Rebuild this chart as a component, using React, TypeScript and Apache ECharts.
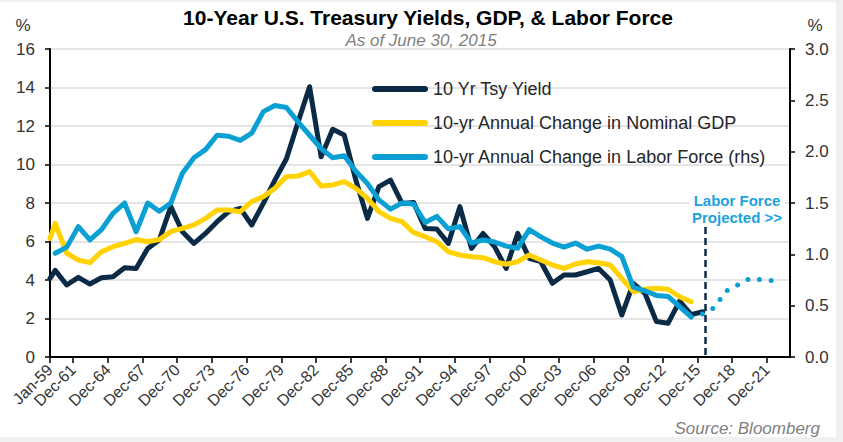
import React, { useEffect, useRef } from "react";
import * as echarts from "echarts";

// Annual observations (Dec of each year, last = Jun-15), first entry = Dec-59
const tsyStartJan59 = 4.09;
const gdpStartJan59 = 6.16;

const tsyYield = [4.5, 3.74, 4.14, 3.79, 4.12, 4.17, 4.64, 4.6, 5.64, 6.08, 7.81, 6.51, 5.9, 6.42, 7.03, 7.55, 7.72, 6.86, 7.98, 9.19, 10.3, 12.2, 14.04, 10.4, 11.83, 11.53, 9.19, 7.2, 8.85, 9.19, 7.98, 8.02, 6.68, 6.65, 5.9, 7.81, 5.64, 6.42, 5.73, 4.6, 6.42, 5.13, 4.95, 3.83, 4.26, 4.26, 4.43, 4.6, 4.0, 2.18, 3.83, 3.31, 1.84, 1.75, 2.9, 2.2, 2.35];

const gdpChange = [6.94, 5.39, 5.04, 4.9, 5.47, 5.73, 5.9, 6.1, 5.99, 6.1, 6.51, 6.68, 6.86, 7.2, 7.64, 7.64, 7.55, 8.07, 8.33, 8.76, 9.37, 9.4, 9.63, 8.88, 8.94, 9.11, 8.76, 8.24, 7.55, 7.2, 7.03, 6.46, 6.25, 5.99, 5.47, 5.3, 5.21, 5.16, 4.95, 4.82, 4.95, 5.3, 5.04, 4.78, 4.6, 4.83, 4.95, 4.9, 4.78, 4.09, 3.39, 3.52, 3.57, 3.52, 3.13, 2.87];

const laborChange = [1.01, 1.07, 1.27, 1.14, 1.24, 1.4, 1.5, 1.22, 1.5, 1.42, 1.5, 1.79, 1.94, 2.02, 2.16, 2.15, 2.11, 2.18, 2.39, 2.45, 2.43, 2.29, 2.16, 2.03, 1.94, 1.96, 1.81, 1.69, 1.53, 1.44, 1.5, 1.49, 1.31, 1.37, 1.25, 1.27, 1.11, 1.14, 1.12, 1.08, 1.06, 1.24, 1.17, 1.11, 1.07, 1.11, 1.05, 1.08, 1.05, 0.98, 0.68, 0.645, 0.6, 0.59, 0.49, 0.39];

// projection starts at the last actual labor-force observation (index 55)
const laborProjStartIndex = 55;
const laborProjected = [0.39, 0.42, 0.48, 0.64, 0.7, 0.76, 0.755, 0.745];

const xTickLabels = ["Jan-59", "Dec-61", "Dec-64", "Dec-67", "Dec-70", "Dec-73", "Dec-76", "Dec-79", "Dec-82", "Dec-85", "Dec-88", "Dec-91", "Dec-94", "Dec-97", "Dec-00", "Dec-03", "Dec-06", "Dec-09", "Dec-12", "Dec-15", "Dec-18", "Dec-21"];

const leftTicks = { min: 0, max: 16, interval: 2 };
const rightTicks = { min: 0, max: 3, interval: 0.5 };

const projectionMarkerPos = 56.7;
const projectionMarkerTop = 6.75;

const NAVY = "#0b2a45";
const GOLD = "#ffd200";
const BLUE = "#0aa0d4";
const FONT = "'Liberation Sans', Arial, Helvetica, sans-serif";

const OFFSET = 0.45; // observation position within period
const pos = (i: number) => i + OFFSET;
const tickPositions = xTickLabels.map((_, i) => (i === 0 ? 0 : 3 * i - 1));

export default function App() {
  const ref = useRef<HTMLDivElement>(null);
  useEffect(() => {
    if (!ref.current) return;
    const chart = echarts.init(ref.current, null, { renderer: "svg" });

    const tsyData = [[0, tsyStartJan59], ...tsyYield.map((v, i) => [pos(i), v])];
    const gdpData = [[0, gdpStartJan59], ...gdpChange.map((v, i) => [pos(i), v])];
    const laborData = laborChange.map((v, i) => [pos(i), v]);
    const projData = laborProjected.map((v, i) => [pos(laborProjStartIndex + i), v]);

    const capsule = "path://M3,0 L53,0 A3,3 0 0 1 53,6 L3,6 A3,3 0 0 1 3,0 Z";

    chart.setOption({
      animation: false,
      backgroundColor: "#ffffff",
      textStyle: { fontFamily: FONT },
      grid: { left: 50, right: 53, top: 49, bottom: 85 },
      legend: {
        orient: "vertical",
        left: 367,
        top: 74,
        itemWidth: 56,
        itemHeight: 6,
        itemGap: 14,
        icon: capsule,
        textStyle: { fontSize: 18, color: "#262626", lineHeight: 20, fontFamily: FONT },
        data: [
          { name: "10 Yr Tsy Yield", itemStyle: { color: NAVY } },
          { name: "10-yr Annual Change in Nominal GDP", itemStyle: { color: GOLD } },
          { name: "10-yr Annual Change in Labor Force (rhs)", itemStyle: { color: BLUE } },
        ],
      },
      xAxis: {
        type: "value",
        min: 0,
        max: 64,
        axisLine: { show: true, lineStyle: { color: "#000", width: 2 } },
        axisTick: { show: true, customValues: tickPositions, length: 6, lineStyle: { color: "#000", width: 1.5 } },
        axisLabel: {
          customValues: tickPositions,
          rotate: 45,
          fontSize: 16,
          color: "#333",
          margin: 10,
          fontFamily: FONT,
          formatter: (v: number) => {
            const idx = tickPositions.indexOf(Math.round(v));
            return idx >= 0 ? xTickLabels[idx] : "";
          },
        },
        splitLine: { show: false },
      },
      yAxis: [
        {
          type: "value",
          ...leftTicks,
          axisLine: { show: true, lineStyle: { color: "#000", width: 2 } },
          axisTick: { show: true, length: 5, lineStyle: { color: "#000", width: 1.5 } },
          axisLabel: { fontSize: 17, color: "#333", margin: 15, fontFamily: FONT },
          splitLine: { show: true, lineStyle: { color: "#dcdcdc", width: 1.5 } },
        },
        {
          type: "value",
          ...rightTicks,
          position: "right",
          axisLine: { show: true, lineStyle: { color: "#000", width: 2 } },
          axisTick: { show: true, length: 5, lineStyle: { color: "#000", width: 1.5 } },
          axisLabel: {
            fontSize: 17,
            color: "#333",
            margin: 15,
            fontFamily: FONT,
            formatter: (v: number) => v.toFixed(1),
          },
          splitLine: { show: false },
        },
      ],
      series: [
        {
          name: "10 Yr Tsy Yield",
          type: "line",
          data: tsyData,
          showSymbol: false,
          symbol: "none",
          color: NAVY,
          lineStyle: { color: NAVY, width: 5, cap: "round", join: "round" },
          markLine: {
            silent: true,
            symbol: ["none", "none"],
            label: { show: false },
            lineStyle: { color: NAVY, type: [7, 4], width: 2.5 },
            data: [[{ coord: [projectionMarkerPos, projectionMarkerTop] }, { coord: [projectionMarkerPos, 0] }]],
          },
        },
        {
          name: "10-yr Annual Change in Nominal GDP",
          type: "line",
          data: gdpData,
          showSymbol: false,
          symbol: "none",
          color: GOLD,
          lineStyle: { color: GOLD, width: 5, cap: "round", join: "round" },
        },
        {
          name: "10-yr Annual Change in Labor Force (rhs)",
          type: "line",
          yAxisIndex: 1,
          data: laborData,
          showSymbol: false,
          symbol: "none",
          color: BLUE,
          lineStyle: { color: BLUE, width: 5, cap: "round", join: "round" },
        },
        {
          name: "Labor Force Projected",
          type: "line",
          yAxisIndex: 1,
          data: projData,
          showSymbol: false,
          symbol: "none",
          color: BLUE,
          lineStyle: { color: BLUE, width: 5, type: [0, 11.7], cap: "round", join: "round" },
        },
      ],
      graphic: [
        { type: "rect", z: 100, shape: { x: 0, y: 0, width: 843, height: 2 }, style: { fill: "#f0f0f0" }, silent: true },
        { type: "rect", z: 100, shape: { x: 836, y: 0, width: 7, height: 442 }, style: { fill: "#f0f0f0" }, silent: true },
        { type: "rect", z: 100, shape: { x: 0, y: 437, width: 843, height: 5 }, style: { fill: "#f0f0f0" }, silent: true },
        {
          type: "text",
          z: 100,
          x: 428,
          y: 17,
          style: {
            text: "10-Year U.S. Treasury Yields, GDP, & Labor Force",
            font: `bold 21px ${FONT}`,
            fill: "#000",
            textAlign: "center",
            textVerticalAlign: "middle",
          },
        },
        {
          type: "text",
          z: 100,
          x: 421,
          y: 40,
          style: {
            text: "As of June 30, 2015",
            font: `italic 17px ${FONT}`,
            fill: "#7f7f7f",
            textAlign: "center",
            textVerticalAlign: "middle",
          },
        },
        {
          type: "text",
          z: 100,
          x: 23,
          y: 25,
          style: { text: "%", font: `17px ${FONT}`, fill: "#333", textAlign: "center", textVerticalAlign: "middle" },
        },
        {
          type: "text",
          z: 100,
          x: 815,
          y: 25,
          style: { text: "%", font: `17px ${FONT}`, fill: "#333", textAlign: "center", textVerticalAlign: "middle" },
        },
        {
          type: "text",
          z: 100,
          x: 737,
          y: 191,
          style: {
            text: "Labor Force\nProjected >>",
            font: `bold 15px ${FONT}`,
            fill: "#1ba3dc",
            textAlign: "center",
            lineHeight: 17,
            backgroundColor: "#ffffff",
            padding: [1, 3, 0, 3],
          },
        },
        {
          type: "text",
          z: 100,
          x: 820,
          y: 428,
          style: {
            text: "Source: Bloomberg",
            font: `italic 17px ${FONT}`,
            fill: "#808080",
            textAlign: "right",
            textVerticalAlign: "middle",
          },
        },
      ],
    });
    return () => chart.dispose();
  }, []);

  return (
    <div
      ref={ref}
      style={{ position: "fixed", left: 0, top: 0, width: 843, height: 442, background: "#fff" }}
    />
  );
}
